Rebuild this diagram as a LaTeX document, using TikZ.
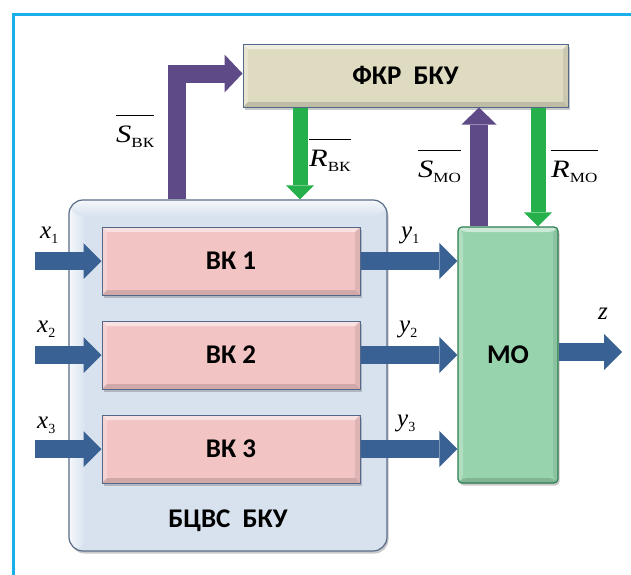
\documentclass[tikz,border=0pt]{standalone}
\usepackage{fontspec}
\setmainfont{Liberation Serif}
\newfontfamily\boxfont{Carlito}
\usetikzlibrary{arrows.meta,shadows,calc}

\definecolor{framecyan}{HTML}{1AAFE8}
\definecolor{fkrfill}{HTML}{DFDBC1}
\definecolor{boxedge}{HTML}{56688A}
\definecolor{bcvsfill}{HTML}{D8E2EF}
\definecolor{bcvsedge}{HTML}{5A6C88}
\definecolor{vkfill}{HTML}{F3C4C4}
\definecolor{mofill}{HTML}{97D3AD}
\definecolor{moedge}{HTML}{2F7D50}
\definecolor{flowblue}{HTML}{3A6194}
\definecolor{setpurple}{HTML}{5E4A87}
\definecolor{resetgreen}{HTML}{25B04B}

% subscript set lower and smaller than the main letter
\newcommand\lowsub[1]{\raisebox{-5.5pt}{\fontsize{14}{16}\selectfont #1}}
% signal name: italic letter with upright subscript, widened
\newcommand\signame[2]{\scalebox{1.22}[1]{\textit{#1}\lowsub{#2}}}

\tikzset{
  bevel/.style={path picture={
    \path (path picture bounding box.north west) coordinate (bvNW)
          (path picture bounding box.north east) coordinate (bvNE)
          (path picture bounding box.south west) coordinate (bvSW)
          (path picture bounding box.south east) coordinate (bvSE);
    \fill[white,opacity=.5] (bvNW) -- (bvNE) -- ([shift={(-5pt,-5pt)}]bvNE)
          -- ([shift={(5pt,-5pt)}]bvNW) -- cycle;
    \fill[white,opacity=.25] (bvNW) -- ([shift={(5pt,-5pt)}]bvNW)
          -- ([shift={(5pt,5pt)}]bvSW) -- (bvSW) -- cycle;
    \fill[black,opacity=.14] (bvSW) -- (bvSE) -- ([shift={(-5pt,5pt)}]bvSE)
          -- ([shift={(5pt,5pt)}]bvSW) -- cycle;
    \fill[black,opacity=.08] (bvNE) -- ([shift={(-5pt,-5pt)}]bvNE)
          -- ([shift={(-5pt,5pt)}]bvSE) -- (bvSE) -- cycle;
  }},
  glass/.style={path picture={
    \path (path picture bounding box.north west) coordinate (glNW)
          (path picture bounding box.north east) coordinate (glNE)
          (path picture bounding box.south west) coordinate (glSW);
    \shade[left color=white!75!bcvsfill,right color=bcvsfill]
          (glNW) rectangle ([xshift=16pt]glSW);
    \shade[top color=white!75!bcvsfill,bottom color=bcvsfill]
          (glNW) rectangle ([yshift=-16pt]glNE);
  }},
  softshadow/.style={drop shadow={shadow xshift=1.5pt,shadow yshift=-2.5pt,
    opacity=.35,fill=black!60}},
  boxtext/.style={font=\boxfont\bfseries\fontsize{27}{31}\selectfont},
  blockbox/.style={draw=boxedge,line width=1pt,inner sep=0pt,boxtext,
    softshadow,bevel},
  fkrbox/.style={blockbox,fill=fkrfill},
  vkbox/.style={blockbox,fill=vkfill,minimum width=258pt,minimum height=68pt},
  bcvsbox/.style={draw=bcvsedge,line width=1.2pt,fill=bcvsfill,
    rounded corners=14pt,softshadow,glass},
  mobox/.style={draw=moedge,line width=1.2pt,fill=mofill,rounded corners=4pt,
    inner sep=0pt,boxtext,softshadow,bevel},
  flow/.style={draw=flowblue,line width=18pt,
    -{Triangle[length=18pt,width=36pt,line width=0pt]}},
  setflow/.style={draw=setpurple,line width=18pt,
    -{Triangle[length=18pt,width=38pt,line width=0pt]}},
  resetflow/.style={draw=resetgreen,line width=15pt,
    -{Triangle[length=14pt,width=28pt,line width=0pt]}},
  siglabel/.style={inner sep=0pt,anchor=base west,font=\fontsize{25}{28}\selectfont},
  overbar/.style={draw=black,line width=1.4pt},
}

\begin{document}
\begin{tikzpicture}[x=1pt,y=-1pt]
  \useasboundingbox (0,0) rectangle (631,574);
  \fill[white] (0,0) rectangle (631,574);

  % outer frame (top and left edges)
  \draw[framecyan,line width=3pt] (13,580) -- (13,14) -- (640,14);

  % blocks
  \node[fkrbox,minimum width=325pt,minimum height=63pt] (fkr) at (405.5,75.5)
    {ФКР\ \ БКУ};
  \node[bcvsbox,minimum width=318pt,minimum height=351pt] (bcvs) at (228,375.5) {};
  \node[boxtext] (bcvsname) at (228,521) {БЦВС\ \ БКУ};
  \node[vkbox] (vk1) at (231,261) {ВК 1};
  \node[vkbox] (vk2) at (231,355) {ВК 2};
  \node[vkbox] (vk3) at (231,449) {ВК 3};
  \node[mobox,minimum width=100pt,minimum height=256pt] (mo) at (508,355) {МО};

  % free ends and arrow columns
  \coordinate (xin) at (35,0);
  \coordinate (zout) at (622,0);
  \coordinate (svk) at (177,0);
  \coordinate (rvk) at (300,0);
  \coordinate (smo) at (479,0);
  \coordinate (rmo) at (538,0);

  % inputs
  \draw[flow] (xin |- vk1.west) -- (vk1.west);
  \draw[flow] (xin |- vk2.west) -- (vk2.west);
  \draw[flow] (xin |- vk3.west) -- (vk3.west);
  % outputs to the voting unit
  \draw[flow] (vk1.east) -- (vk1.east -| mo.west);
  \draw[flow] (vk2.east) -- (vk2.east -| mo.west);
  \draw[flow] (vk3.east) -- (vk3.east -| mo.west);
  % result
  \draw[flow] ([yshift=3pt]mo.east) -- ([yshift=3pt]mo.east -| zout);

  % control signals
  \draw[setflow] (svk |- bcvs.north) |- ([yshift=2pt]fkr.west);
  \draw[resetflow] (rvk |- fkr.south) -- (rvk |- bcvs.north);
  \draw[setflow,-{Triangle[length=17pt,width=35pt,line width=0pt]}]
    (smo |- mo.north) -- (smo |- fkr.south);
  \draw[resetflow] (rmo |- fkr.south) -- (rmo |- mo.north);

  % signal labels
  \node[siglabel] (lsvk) at (116,142) {\signame{S}{ВК}};
  \node[siglabel] (lrvk) at (309,166) {\signame{R}{ВК}};
  \node[siglabel] (lsmo) at (418,177) {\signame{S}{МО}};
  \node[siglabel] (lrmo) at (551,177) {\signame{R}{МО}};
  \foreach \l in {lsvk,lrvk,lsmo,lrmo}
    \draw[overbar] ([yshift=10pt]\l.north west) -- ([yshift=10pt]\l.north east);

  \node[siglabel] (lx1) at (40,238) {\textit{x}\lowsub{1}};
  \node[siglabel] (lx2) at (37,332) {\textit{x}\lowsub{2}};
  \node[siglabel] (lx3) at (37,428) {\textit{x}\lowsub{3}};
  \node[siglabel] (ly1) at (401,238) {\textit{y}\lowsub{1}};
  \node[siglabel] (ly2) at (399,332) {\textit{y}\lowsub{2}};
  \node[siglabel] (ly3) at (397,426) {\textit{y}\lowsub{3}};
  \node[siglabel] (lz) at (598,319) {\textit{z}};
\end{tikzpicture}
\end{document}
